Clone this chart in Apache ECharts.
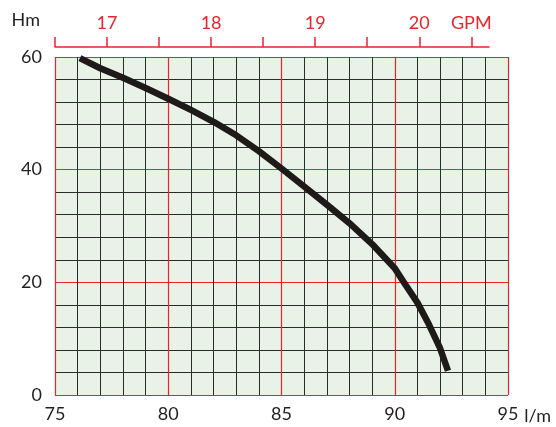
<!DOCTYPE html>
<html>
<head>
<meta charset="utf-8">
<script src="https://cdn.jsdelivr.net/npm/echarts@6/dist/echarts.min.js"></script>
<style>
  html, body { margin: 0; padding: 0; background: #fff; }
  #main { width: 556px; height: 427px; }
</style>
</head>
<body>
<div id="main"></div>
<script>
// flow in l/m and head in m
var flow = [76.1, 77, 78, 79, 80, 81, 82, 83, 84, 85, 86, 87, 88, 89, 90, 90.4, 91, 91.5, 92, 92.35];
var head = [59.8, 58.0, 56.3, 54.5, 52.6, 50.6, 48.5, 46.1, 43.3, 40.2, 37.0, 33.8, 30.5, 26.8, 22.5, 20.0, 16.4, 12.6, 8.3, 4.3];

// top scale (GPM), ticks every half gallon
var gpmMin = 16.5;
var gpmMax = 20.67;
var gpmLabels = { 17: '17', 18: '18', 19: '19', 20: '20', 20.5: 'GPM' };

var RED = '#e8242c';
var INK = '#231f20';
var FONT = 'Lato';

var myChart = echarts.init(document.getElementById('main'));

var points = flow.map(function (x, i) { return [x, head[i]]; });

myChart.setOption({
  animation: false,
  textStyle: { fontFamily: FONT },
  grid: [
    { left: 55, right: 48, top: 57, bottom: 32, show: true, backgroundColor: '#e9f2e7', borderWidth: 0 },
    { left: 55, right: 67, top: 46, height: 1 }
  ],
  xAxis: [
    {
      type: 'value', gridIndex: 0, min: 75, max: 95, interval: 5,
      axisLine: { show: false }, axisTick: { show: false },
      axisLabel: { color: INK, fontSize: 18, margin: 10, fontFamily: FONT },
      splitLine: { show: true, lineStyle: { color: RED, width: 1.2 } },
      minorTick: { show: false, splitNumber: 5 },
      minorSplitLine: { show: true, lineStyle: { color: '#2b2b2b', width: 1 } },
      name: 'l/m', nameLocation: 'end', nameGap: 15,
      nameTextStyle: { color: INK, fontSize: 18, align: 'left', verticalAlign: 'top', padding: [12, 0, 0, 0], fontFamily: FONT }
    },
    {
      type: 'value', gridIndex: 1, position: 'top', min: gpmMin, max: gpmMax, interval: 0.5,
      axisLine: { show: true, lineStyle: { color: RED, width: 1.5 } },
      axisTick: { show: true, length: 10, lineStyle: { color: RED, width: 1.5 } },
      axisLabel: {
        color: RED, fontSize: 18, margin: 14, fontFamily: FONT, showMaxLabel: false,
        formatter: function (v) { return gpmLabels[v] || ''; }
      },
      splitLine: { show: false }
    }
  ],
  yAxis: [
    {
      type: 'value', gridIndex: 0, min: 0, max: 60, interval: 20,
      axisLine: { show: false }, axisTick: { show: false },
      axisLabel: { color: INK, fontSize: 18, margin: 13, fontFamily: FONT },
      splitLine: { show: true, lineStyle: { color: RED, width: 1.2 } },
      minorTick: { show: false, splitNumber: 5 },
      minorSplitLine: { show: true, lineStyle: { color: '#2b2b2b', width: 1 } },
      name: 'Hm', nameLocation: 'end', nameGap: 37,
      nameTextStyle: { color: INK, fontSize: 18, align: 'right', verticalAlign: 'middle', padding: [0, 15, 0, 0], fontFamily: FONT }
    },
    { type: 'value', gridIndex: 1, show: false }
  ],
  series: [{
    type: 'line',
    xAxisIndex: 0, yAxisIndex: 0,
    data: points,
    showSymbol: false,
    smooth: false,
    lineStyle: { color: '#1e1a1a', width: 6.5, join: 'round' },
    z: 5
  }]
});
</script>
</body>
</html>
